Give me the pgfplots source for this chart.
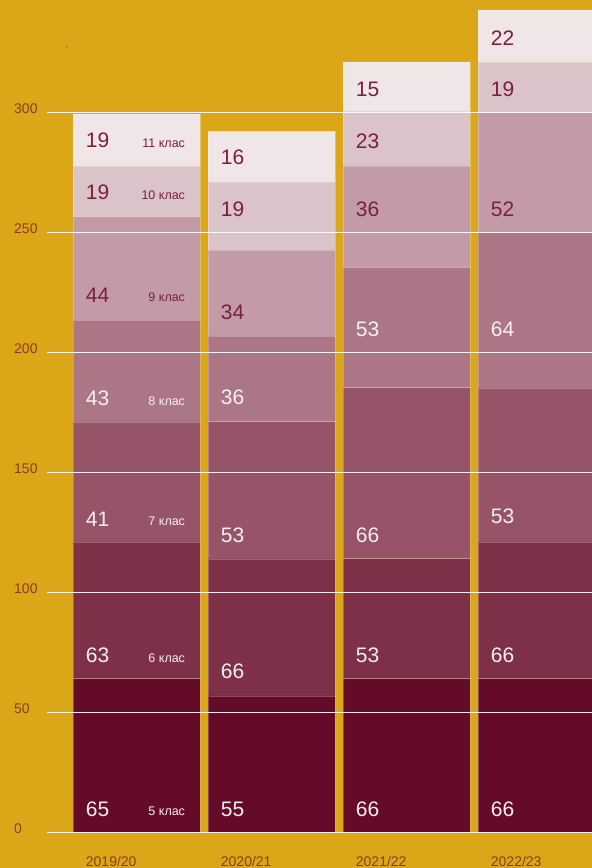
\documentclass[border=0pt]{standalone}
\usepackage{fontspec}
\setmainfont{Liberation Sans}
\usepackage{pgfplots}
\pgfplotsset{compat=1.18}
\definecolor{bg}{HTML}{DBA718}
\definecolor{cA}{HTML}{650B29}
\definecolor{cB}{HTML}{7E3048}
\definecolor{cC}{HTML}{975367}
\definecolor{cD}{HTML}{AB7686}
\definecolor{cE}{HTML}{C39AA7}
\definecolor{cF}{HTML}{DBC3CA}
\definecolor{cG}{HTML}{F0E6E8}
\definecolor{tickc}{HTML}{8E3A1E}
\definecolor{numdark}{HTML}{7A1F3D}
\definecolor{numlight}{HTML}{F7F0F2}
\newcommand{\numW}[3]{\node[anchor=west, inner sep=0pt, text=numlight, font=\fontsize{21}{21}\selectfont, xshift=-51pt] at (axis cs:#1,#2) {#3};}
\newcommand{\numD}[3]{\node[anchor=west, inner sep=0pt, text=numdark, font=\fontsize{21}{21}\selectfont, xshift=-51pt] at (axis cs:#1,#2) {#3};}
\newcommand{\clsW}[2]{\node[anchor=east, inner sep=0pt, text=numlight, font=\fontsize{12.5}{12.5}\selectfont, xshift=48.5pt] at (axis cs:0,#1) {#2};}
\newcommand{\clsD}[2]{\node[anchor=east, inner sep=0pt, text=numdark, font=\fontsize{12.5}{12.5}\selectfont, xshift=48.5pt] at (axis cs:0,#1) {#2};}
\pgfplotsset{
  common/.style={
    width=592pt, height=868pt, scale only axis,
    xmin=-1.01259, xmax=3.37259, ymin=-14.875, ymax=346.79,
    axis line style={draw=none}, xtick=\empty, ytick=\empty,
  }
}
\begin{document}
\begin{tikzpicture}
\begin{axis}[
  common,
  axis background/.style={fill=bg},
  ybar stacked, bar width=127pt,
]
% 5 клас
\addplot[fill=cA, draw=white, draw opacity=0.25, line width=0.6pt] coordinates {(0,64) (1,56.8) (2,64) (3,64)};
% 6 клас
\addplot[fill=cB, draw=white, draw opacity=0.25, line width=0.6pt] coordinates {(0,57) (1,57.1) (2,50) (3,57)};
% 7 клас
\addplot[fill=cC, draw=white, draw opacity=0.25, line width=0.6pt] coordinates {(0,50) (1,57.2) (2,71.3) (3,64.2)};
% 8 клас
\addplot[fill=cD, draw=white, draw opacity=0.25, line width=0.6pt] coordinates {(0,42.4) (1,35.7) (2,50.1) (3,64.8)};
% 9 клас
\addplot[fill=cE, draw=white, draw opacity=0.25, line width=0.6pt] coordinates {(0,43.1) (1,35.8) (2,42.3) (3,50)};
% 10 клас
\addplot[fill=cF, draw=white, draw opacity=0.25, line width=0.6pt] coordinates {(0,21) (1,28.4) (2,22.7) (3,20.8)};
% 11 клас
\addplot[fill=cG, draw=white, draw opacity=0.25, line width=0.6pt] coordinates {(0,21.7) (1,21) (2,20.5) (3,21.8)};
\end{axis}

\begin{axis}[common]
% grid lines on top
\pgfplotsinvokeforeach{0,50,100,150,200,250,300}{
  \draw[white, line width=1.3pt, opacity=0.9] (axis cs:-0.6644,#1) -- (axis cs:3.5,#1);
  \node[anchor=west, inner sep=0pt, text=tickc, font=\fontsize{14}{14}\selectfont, yshift=3.5pt] at (axis cs:-0.909,#1) {#1};
}
% small dash mark near the top left
\node[inner sep=0pt, text=tickc, font=\fontsize{8}{8}\selectfont] at (axis cs:-0.516,326.8) {-};

% year labels
\node[anchor=west, inner sep=0pt, text=tickc, font=\fontsize{14}{14}\selectfont, xshift=-51pt] at (axis cs:0,-12.0) {2019/20};
\node[anchor=west, inner sep=0pt, text=tickc, font=\fontsize{14}{14}\selectfont, xshift=-51pt] at (axis cs:1,-12.0) {2020/21};
\node[anchor=west, inner sep=0pt, text=tickc, font=\fontsize{14}{14}\selectfont, xshift=-51pt] at (axis cs:2,-12.0) {2021/22};
\node[anchor=west, inner sep=0pt, text=tickc, font=\fontsize{14}{14}\selectfont, xshift=-51pt] at (axis cs:3,-12.0) {2022/23};

% value labels, 2019/20
\numW{0}{9.6}{65}
\numW{0}{73.9}{63}
\numW{0}{130.4}{41}
\numW{0}{180.8}{43}
\numD{0}{223.9}{44}
\numD{0}{266.5}{19}
\numD{0}{288.2}{19}
% 2020/21
\numW{1}{9.6}{55}
\numW{1}{66.9}{66}
\numW{1}{123.9}{53}
\numW{1}{181.3}{36}
\numD{1}{216.5}{34}
\numD{1}{259.7}{19}
\numD{1}{281.25}{16}
% 2021/22
\numW{2}{9.7}{66}
\numW{2}{73.6}{53}
\numW{2}{123.9}{66}
\numW{2}{209.6}{53}
\numD{2}{259.6}{36}
\numD{2}{287.75}{23}
\numD{2}{309.6}{15}
% 2022/23
\numW{3}{9.7}{66}
\numW{3}{73.6}{66}
\numW{3}{131.5}{53}
\numW{3}{209.6}{64}
\numD{3}{259.6}{52}
\numD{3}{309.6}{19}
\numD{3}{330.8}{22}

% class labels
\clsW{8.6}{5 клас}
\clsW{72.6}{6 клас}
\clsW{129.8}{7 клас}
\clsW{179.8}{8 клас}
\clsD{223.0}{9 клас}
\clsD{265.5}{10 клас}
\clsD{287.1}{11 клас}
\end{axis}
\end{tikzpicture}
\end{document}
